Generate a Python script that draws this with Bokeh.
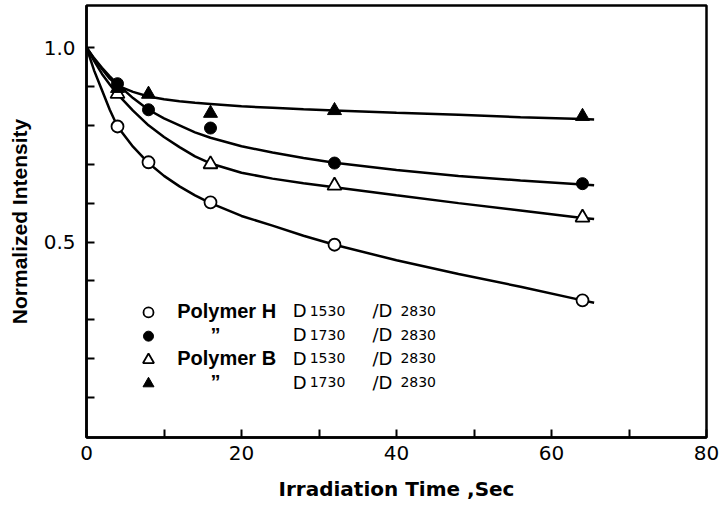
from bokeh.plotting import figure
from bokeh.models import FixedTicker, Range1d
from bokeh.core.properties import value
from bokeh.embed import file_html
from bokeh.resources import INLINE

# ---- measured data points ----
h1530_t = [4, 8, 16, 32, 64]
h1530_v = [0.797, 0.705, 0.602, 0.493, 0.350]
h1730_t = [4, 8, 16, 32, 64]
h1730_v = [0.907, 0.840, 0.793, 0.703, 0.650]
b1530_t = [4, 16, 32, 64]
b1530_v = [0.881, 0.700, 0.645, 0.563]
b1730_t = [4, 8, 16, 32, 64]
b1730_v = [0.895, 0.880, 0.831, 0.838, 0.823]

# ---- fitted curves ----
curve_t = [0, 1, 2, 3, 4, 6, 8, 10, 12, 14, 16, 20, 24, 28, 32, 40, 48, 56, 64, 65.5]
h1530_curve = [1.00, 0.94, 0.89, 0.84, 0.797, 0.745, 0.703, 0.670, 0.643, 0.620, 0.600,
               0.567, 0.542, 0.516, 0.493, 0.453, 0.418, 0.385, 0.350, 0.344]
b1530_curve = [1.00, 0.965, 0.932, 0.905, 0.880, 0.838, 0.800, 0.770, 0.744, 0.720, 0.702,
               0.678, 0.663, 0.651, 0.641, 0.620, 0.600, 0.581, 0.562, 0.559]
h1730_curve = [1.00, 0.972, 0.948, 0.926, 0.906, 0.870, 0.840, 0.818, 0.800, 0.782, 0.768,
               0.746, 0.730, 0.716, 0.704, 0.685, 0.670, 0.658, 0.648, 0.646]
b1730_curve = [1.00, 0.970, 0.945, 0.920, 0.902, 0.886, 0.874, 0.867, 0.862, 0.858, 0.855,
               0.849, 0.845, 0.841, 0.838, 0.832, 0.827, 0.821, 0.816, 0.815]

x_ticks = [0, 10, 20, 30, 40, 50, 60, 70, 80]
x_labels = {0: "0", 10: "", 20: "20", 30: "", 40: "40", 50: "", 60: "60", 70: "", 80: "80"}
y_ticks = [0.1, 0.2, 0.3, 0.4, 0.5, 0.6, 0.7, 0.8, 0.9, 1.0]
y_labels = {0.1: "", 0.2: "", 0.3: "", 0.4: "", 0.5: "0.5", 0.6: "", 0.7: "", 0.8: "",
            0.9: "", 1.0: "1.0"}

legend_names = ["Polymer H", "\u201d", "Polymer B", "\u201d"]
legend_band = ["1530", "1730", "1530", "1730"]
legend_ref = ["2830", "2830", "2830", "2830"]

p = figure(width=725, height=511, output_backend="svg", toolbar_location=None,
           x_range=Range1d(0, 80), y_range=Range1d(-0.0025, 1.108),
           min_border_left=86, min_border_right=19, min_border_top=5, min_border_bottom=74)
p.grid.visible = False
p.background_fill_color = "white"
p.border_fill_color = "white"
p.outline_line_color = "black"
p.outline_line_width = 2.5

for ax in (p.xaxis[0], p.yaxis[0]):
    ax.axis_line_width = 2.5
    ax.major_tick_in = 8
    ax.major_tick_out = 0
    ax.major_tick_line_width = 2
    ax.minor_tick_line_color = None
    ax.major_label_text_font = "DejaVu Sans"
    ax.major_label_text_font_size = "20px"
    ax.major_label_text_color = "black"
    ax.axis_label_text_color = "black"
    ax.axis_label_text_font_style = "bold"

p.xaxis.ticker = FixedTicker(ticks=x_ticks)
p.xaxis.major_label_overrides = x_labels
p.xaxis.major_label_standoff = 8
p.xaxis.axis_label = "Irradiation Time ,Sec"
p.xaxis.axis_label_text_font = "DejaVu Sans"
p.xaxis.axis_label_text_font_size = "20px"
p.xaxis.axis_label_standoff = 14

p.yaxis.ticker = FixedTicker(ticks=y_ticks)
p.yaxis.major_label_overrides = y_labels
p.yaxis.major_label_standoff = 11
p.yaxis.axis_label = "Normalized Intensity"
p.yaxis.axis_label_text_font = "Liberation Sans"
p.yaxis.axis_label_text_font_size = "21px"
p.yaxis.axis_label_standoff = 10

lw = 2.5
for c in (h1530_curve, b1530_curve, h1730_curve, b1730_curve):
    p.line(curve_t, c, line_color="black", line_width=lw)

p.scatter(h1530_t, h1530_v, marker="circle", size=12, fill_color="white", line_color="black", line_width=1.8)
p.scatter(h1730_t, h1730_v, marker="circle", size=12, fill_color="black", line_color="black")
p.scatter(b1530_t, b1530_v, marker="triangle", size=14, fill_color="white", line_color="black", line_width=1.8)
p.scatter(b1730_t, b1730_v, marker="triangle", size=14, fill_color="black", line_color="black")

# ---- legend (drawn as text/markers) ----
row_y0 = 0.319
row_step = 0.061
rows = [row_y0 - i * row_step for i in range(4)]
base = [r + 0.004 for r in rows]
mk = [8.0] * 4
p.scatter(mk[0:1], rows[0:1], marker="circle", size=10, fill_color="white", line_color="black", line_width=1.8)
p.scatter(mk[1:2], rows[1:2], marker="circle", size=10, fill_color="black", line_color="black")
p.scatter(mk[2:3], rows[2:3], marker="triangle", size=11, fill_color="white", line_color="black", line_width=1.8)
p.scatter(mk[3:4], rows[3:4], marker="triangle", size=11, fill_color="black", line_color="black")

name_x = [11.7, 16.0, 11.7, 16.0]
p.text(name_x, base, text=legend_names, text_font=value("Liberation Sans"), text_font_style="bold",
       text_font_size="20px", text_baseline="alphabetic", text_color="black")
p.text([26.6] * 4, base, text=["D"] * 4, text_font=value("DejaVu Sans"),
       text_font_size="18px", text_baseline="alphabetic", text_color="black")
p.text([28.8] * 4, base, text=legend_band, text_font=value("DejaVu Sans"),
       text_font_size="14px", text_baseline="alphabetic", text_color="black")
p.text([36.9] * 4, base, text=["/D"] * 4, text_font=value("DejaVu Sans"),
       text_font_size="18px", text_baseline="alphabetic", text_color="black")
p.text([40.5] * 4, base, text=legend_ref, text_font=value("DejaVu Sans"),
       text_font_size="14px", text_baseline="alphabetic", text_color="black")

open("out.html", "w").write(file_html(p, INLINE))
